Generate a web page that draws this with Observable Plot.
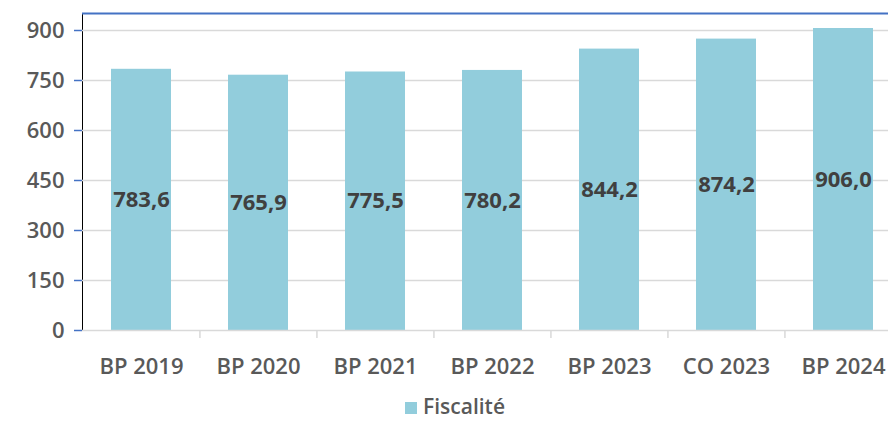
<!DOCTYPE html>
<html>
<head>
<meta charset="utf-8">
<script src="https://cdn.jsdelivr.net/npm/d3@7"></script>
<script src="https://cdn.jsdelivr.net/npm/@observablehq/plot@0.6"></script>
<style>
  html, body { margin: 0; padding: 0; background: #fff; width: 888px; }
  #chart svg g[aria-label^="y-axis"] { color: #4472c4; }
  #chart svg g[aria-label^="y-axis"] text { fill: #595959; }
  #chart svg g[aria-label^="y-axis"] line, #chart svg g[aria-label^="y-axis"] path { stroke: #4472c4; stroke-width: 1.5px; }
  .legend { box-sizing: border-box; padding-top: 12px; display: flex; justify-content: center; align-items: center;
            font-family: "Open Sans", sans-serif; font-size: 21px; font-weight: 600; color: #595959; }
  .legend .sw { width: 12px; height: 12px; background: #92cddc; margin-right: 6px; margin-left: 22px; margin-top: 3px; }
</style>
</head>
<body>
<div id="chart"></div>
<div class="legend"><span class="sw"></span><span>Fiscalité</span></div>
<script>
const categories = ["BP 2019", "BP 2020", "BP 2021", "BP 2022", "BP 2023", "CO 2023", "BP 2024"];
const values = [783.6, 765.9, 775.5, 780.2, 844.2, 874.2, 906.0];
const yTicks = [0, 150, 300, 450, 600, 750, 900];
const yMax = 951;

const data = categories.map((c, i) => ({cat: c, v: values[i]}));
const fmt = v => v.toFixed(1).replace(".", ",");

const W = 888, ML = 82, MR = -14;
const step = (W - MR - ML) / categories.length;

const chart = Plot.plot({
  width: W,
  height: 380,
  marginLeft: ML,
  marginRight: MR,
  marginTop: 13,
  marginBottom: 50,
  style: {fontFamily: "'Open Sans', sans-serif", fontSize: "22px", fontWeight: 600, background: "#fff", overflow: "visible"},
  x: {domain: categories, axis: null, paddingInner: 0.49, paddingOuter: 0.245},
  y: {domain: [0, yMax], ticks: yTicks, tickSize: 8, tickPadding: 10, line: true, label: null, tickFormat: d => d},
  marks: [
    Plot.ruleY(yTicks.filter(d => d > 0), {stroke: "#d9d9d9", strokeWidth: 1.5}),
    Plot.ruleY([yMax], {stroke: "#4472c4", strokeWidth: 2}),
    Plot.barY(data, {x: "cat", y: "v", fill: "#92cddc"}),
    Plot.ruleY([0], {stroke: "#d9d9d9", strokeWidth: 1.5}),
    Plot.ruleX(categories.slice(1), {x: d => d, y1: 0, y2: -24, dx: -step / 2, stroke: "#d9d9d9", strokeWidth: 1.5}),
    Plot.text(data, {x: "cat", y: d => d.v / 2, text: d => fmt(d.v), fill: "#404040", fontSize: 22, fontWeight: 700}),
    Plot.text(categories, {x: d => d, y: 0, dy: 36, text: d => d, fill: "#595959", fontSize: 22, fontWeight: 600})
  ]
});
document.getElementById("chart").appendChild(chart);
</script>
</body>
</html>
